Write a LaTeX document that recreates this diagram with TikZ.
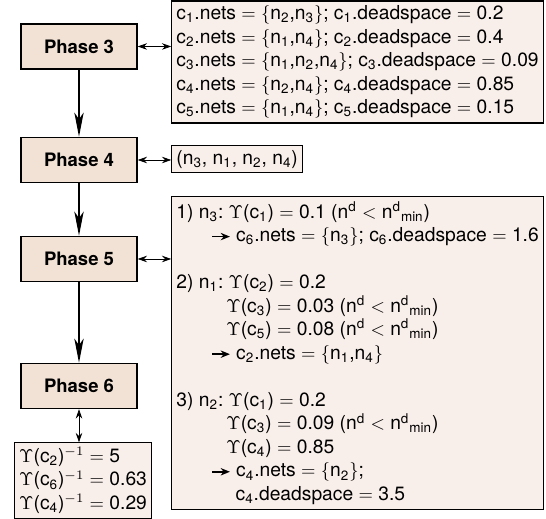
\documentclass[tikz,border=0pt]{standalone}
\usepackage{fontspec}
\setmainfont{TeX Gyre Heros}
\usetikzlibrary{arrows.meta,positioning}
\definecolor{phasefill}{HTML}{F2E2D5}
\definecolor{notefill}{HTML}{F9EFEA}
\newcommand{\cix}[1]{c\textsubscript{#1}}
\newcommand{\nix}[1]{n\textsubscript{#1}}
\newcommand{\upsv}{$\Upsilon$}
\newcommand{\ndsup}{n\textsuperscript{d}}
\newcommand{\ndmin}{n\textsuperscript{d}\textsubscript{min}}
\newcommand{\implarrow}{\tikz[baseline=-0.5ex]\draw[-{Stealth[length=5pt,width=4pt]},thick] (0,0) -- (9.5pt,0);}
\frenchspacing

\begin{document}
\begin{tikzpicture}[
  every node/.style={font=\fontsize{10.4}{12.7}\selectfont},
  phasenode/.style={draw,thick,fill=phasefill,minimum width=62.6pt,minimum height=24.3pt,font=\fontsize{10}{12}\selectfont\bfseries},
  notenode/.style={draw,semithick,fill=notefill,align=left,inner sep=2.5pt},
  flow/.style={-{Stealth[length=13pt,width=5pt,inset=3.5pt]},line width=1.3pt},
  link/.style={{Stealth[length=5pt,width=3.5pt]}-{Stealth[length=5pt,width=3.5pt]},thin}
]
\useasboundingbox (0,0) rectangle (294.84pt,-280.26pt);

\node[phasenode] (p3) at (42.66pt,-25.1pt) {Phase 3};
\node[phasenode,below=36.2pt of p3] (p4) {Phase 4};
\node[phasenode,below=28.35pt of p4] (p5) {Phase 5};
\node[phasenode,below=43.5pt of p5] (p6) {Phase 6};

\node[notenode,right=18.1pt of p3,yshift=-8.4pt] (cells) {%
\cix{1}.nets $=$ $\{$\nix{2},\nix{3}$\}$; \cix{1}.deadspace $=$ 0.2\\
\cix{2}.nets $=$ $\{$\nix{1},\nix{4}$\}$; \cix{2}.deadspace $=$ 0.4\\
\cix{3}.nets $=$ $\{$\nix{1},\nix{2},\nix{4}$\}$; \cix{3}.deadspace $=$ 0.09\\
\cix{4}.nets $=$ $\{$\nix{2},\nix{4}$\}$; \cix{4}.deadspace $=$ 0.85\\
\cix{5}.nets $=$ $\{$\nix{1},\nix{4}$\}$; \cix{5}.deadspace $=$ 0.15};
\node[notenode,right=18.1pt of p4,yshift=0.5pt] (order) {(\nix{3}, \nix{1}, \nix{2}, \nix{4})};
\node[notenode,right=18.1pt of p5,yshift=-50.8pt] (steps) {%
1) \nix{3}: \upsv(\cix{1}) $=$ 0.1 (\ndsup{} $<$ \ndmin)\\
\hspace*{19pt}\implarrow\hspace{3pt}\cix{6}.nets $=$ $\{$\nix{3}$\}$; \cix{6}.deadspace $=$ 1.6\\[12.7pt]
2) \nix{1}: \upsv(\cix{2}) $=$ 0.2\\
\hspace*{27pt}\upsv(\cix{3}) $=$ 0.03 (\ndsup{} $<$ \ndmin)\\
\hspace*{27pt}\upsv(\cix{5}) $=$ 0.08 (\ndsup{} $<$ \ndmin)\\
\hspace*{19pt}\implarrow\hspace{3pt}\cix{2}.nets $=$ $\{$\nix{1},\nix{4}$\}$\\[12.7pt]
3) \nix{2}: \upsv(\cix{1}) $=$ 0.2\\
\hspace*{27pt}\upsv(\cix{3}) $=$ 0.09 (\ndsup{} $<$ \ndmin)\\
\hspace*{27pt}\upsv(\cix{4}) $=$ 0.85\\
\hspace*{19pt}\implarrow\hspace{3pt}\cix{4}.nets $=$ $\{$\nix{2}$\}$;\\
\hspace*{32pt}\cix{4}.deadspace $=$ 3.5};
\node[notenode,below=17.8pt of p6,xshift=2.2pt] (costs) {%
\upsv(\cix{2})$^{-1}$ $=$ 5\\
\upsv(\cix{6})$^{-1}$ $=$ 0.63\\
\upsv(\cix{4})$^{-1}$ $=$ 0.29};

\draw[flow] (p3) -- (p4);
\draw[flow] (p4) -- (p5);
\draw[flow] (p5) -- (p6);
\draw[link] (p3.east) -- (p3.east -| cells.west);
\draw[link] (p4.east) -- (p4.east -| order.west);
\draw[link] (p5.east) -- (p5.east -| steps.west);
\draw[link] (p6.south) -- (p6.south |- costs.north);
\end{tikzpicture}
\end{document}
